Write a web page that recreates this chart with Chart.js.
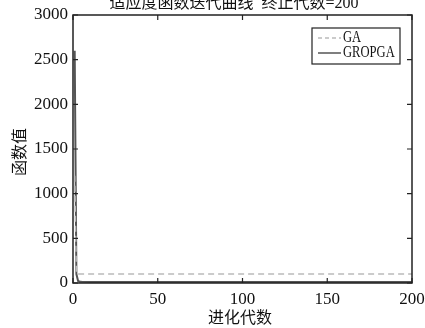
<!DOCTYPE html>
<html>
<head>
<meta charset="utf-8">
<script src="https://cdn.jsdelivr.net/npm/chart.js@4.4.1/dist/chart.umd.min.js"></script>
<style>
  html, body { margin: 0; padding: 0; background: #fff; }
  #wrap { width: 425px; height: 328px; }
</style>
</head>
<body>
<div id="wrap"><canvas id="c" width="425" height="328"></canvas></div>
<script>
// Generations sampled along the run
const generations = [1, 2, 3, 4, 5, 10, 20, 50, 100, 150, 200];
// Fitness values per generation
const gaValues     = [1200, 100, 100, 100, 100, 100, 100, 100, 100, 100, 100];
const gropgaValues = [2600, 100, 22, 15, 13, 12, 12, 12, 12, 12, 12];
// Axis ticks
const xTicks = [0, 50, 100, 150, 200];
const yTicks = [0, 500, 1000, 1500, 2000, 2500, 3000];

const serif = "'Liberation Serif', 'DejaVu Serif', serif";
const cjk = "'Liberation Serif', 'Noto Sans CJK SC', serif";

const toPts = vals => generations.map((g, i) => ({ x: g, y: vals[i] }));

// Frame, inward ticks, title, axis titles and legend
const framePlugin = {
  id: 'frame',
  afterDraw(chart) {
    const { ctx, chartArea: a, scales } = chart;
    ctx.save();
    ctx.strokeStyle = '#222';
    ctx.lineWidth = 1.5;
    ctx.strokeRect(a.left, a.top, a.right - a.left, a.bottom - a.top);
    ctx.lineWidth = 1.2;
    ctx.beginPath();
    xTicks.forEach(t => {
      const x = scales.x.getPixelForValue(t);
      ctx.moveTo(x, a.bottom); ctx.lineTo(x, a.bottom - 5);
      ctx.moveTo(x, a.top); ctx.lineTo(x, a.top + 5);
    });
    yTicks.forEach(t => {
      const y = scales.y.getPixelForValue(t);
      ctx.moveTo(a.left, y); ctx.lineTo(a.left + 5, y);
      ctx.moveTo(a.right, y); ctx.lineTo(a.right - 5, y);
    });
    ctx.stroke();

    ctx.fillStyle = '#111';
    ctx.textAlign = 'center';
    ctx.textBaseline = 'middle';
    ctx.font = '16px ' + cjk;
    ctx.fillText('适应度函数迭代曲线  终止代数=200', 234, 4);
    ctx.fillText('进化代数', 240, 319);
    ctx.save();
    ctx.translate(21, 152);
    ctx.rotate(-Math.PI / 2);
    ctx.fillText('函数值', 0, 0);
    ctx.restore();

    // legend box
    const lx = 312, ly = 28, lw = 88, lh = 36;
    ctx.fillStyle = '#fff';
    ctx.fillRect(lx, ly, lw, lh);
    ctx.strokeStyle = '#222';
    ctx.lineWidth = 1.2;
    ctx.strokeRect(lx, ly, lw, lh);
    ctx.lineWidth = 1.5;
    ctx.strokeStyle = '#bbb';
    ctx.setLineDash([4, 3]);
    ctx.beginPath(); ctx.moveTo(318, 38); ctx.lineTo(341, 38); ctx.stroke();
    ctx.setLineDash([]);
    ctx.strokeStyle = '#555';
    ctx.beginPath(); ctx.moveTo(318, 53); ctx.lineTo(341, 53); ctx.stroke();
    ctx.fillStyle = '#111';
    ctx.textAlign = 'left';
    ctx.font = '17px ' + serif;
    ctx.save();
    ctx.translate(343, 0);
    ctx.scale(0.74, 1);
    ctx.fillText('GA', 0, 38);
    ctx.fillText('GROPGA', 0, 53);
    ctx.restore();
    ctx.restore();
  }
};

new Chart(document.getElementById('c'), {
  type: 'line',
  data: {
    datasets: [
      { label: 'GA', data: toPts(gaValues), borderColor: '#bbb', borderWidth: 1.5,
        borderDash: [6, 4], pointRadius: 0, tension: 0 },
      { label: 'GROPGA', data: toPts(gropgaValues), borderColor: '#555', borderWidth: 2,
        pointRadius: 0, tension: 0 }
    ]
  },
  options: {
    responsive: false,
    animation: false,
    events: [],
    layout: { padding: { left: 0, right: 0, top: 15, bottom: 0 } },
    plugins: { legend: { display: false }, title: { display: false }, tooltip: { enabled: false } },
    scales: {
      x: {
        type: 'linear', min: 0, max: 200,
        afterBuildTicks: s => { s.ticks = xTicks.map(v => ({ value: v })); },
        afterFit: s => { s.height = 45; s.paddingRight = 13; s.paddingLeft = 0; },
        grid: { display: false, drawTicks: false }, border: { display: false },
        ticks: { color: '#111', font: { family: serif, size: 17 }, padding: 6, maxRotation: 0,
                 callback: v => String(v) }
      },
      y: {
        min: 0, max: 3000,
        afterBuildTicks: s => { s.ticks = yTicks.map(v => ({ value: v })); },
        afterFit: s => { s.width = 73; s.paddingTop = 0; s.paddingBottom = 0; },
        grid: { display: false, drawTicks: false }, border: { display: false },
        ticks: { color: '#111', font: { family: serif, size: 17 }, padding: 5,
                 callback: v => String(v) }
      }
    }
  },
  plugins: [framePlugin]
});
</script>
</body>
</html>
